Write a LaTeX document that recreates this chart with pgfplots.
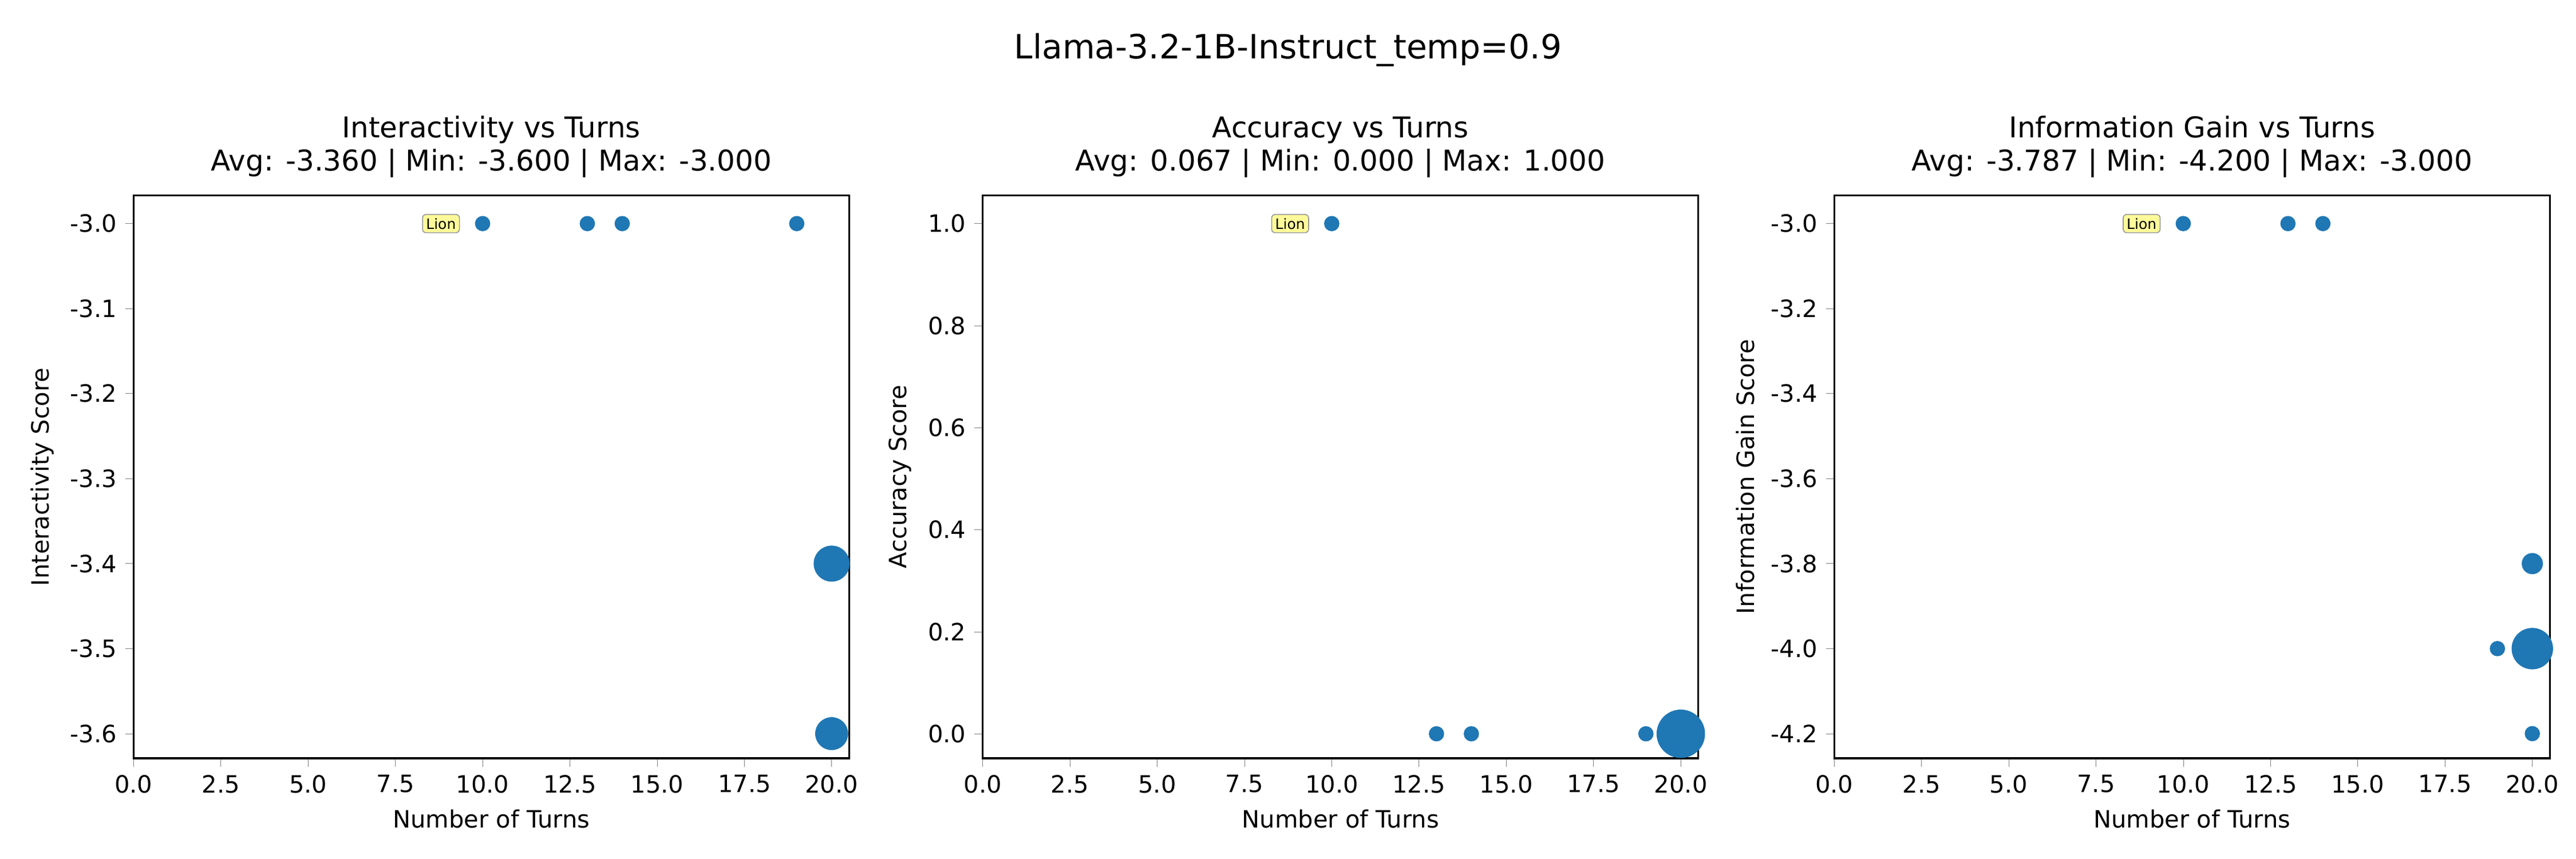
\documentclass[border=0pt]{standalone}
\usepackage{pgfplots}
\pgfplotsset{compat=1.18}
\usepackage{fontspec}
\setmainfont{DejaVu Sans}
\definecolor{mblue}{HTML}{1F77B4}
\tikzset{lion/.style={anchor=east, font=\fontsize{6}{7}\selectfont, fill=yellow!40, draw=black!40, rounded corners=1.5pt, inner sep=1.5pt}}
\pgfplotsset{
  panel/.style={scale only axis, width=300pt, height=236pt, xmin=0, xmax=20.5,
    xtick={0,2.5,...,20}, tick align=outside, tick pos=left,
    /pgf/number format/assume math mode=true,
    xticklabel style={/pgf/number format/.cd, fixed, fixed zerofill, precision=1},
    yticklabel style={/pgf/number format/.cd, fixed, fixed zerofill, precision=1},
    ticklabel style={font=\fontsize{10}{12}\selectfont},
    label style={font=\fontsize{10}{12}\selectfont},
    title style={font=\fontsize{12}{14}\selectfont, align=center, yshift=-2pt},
    xlabel={Number of Turns}, axis line style={line width=0.8pt}, major tick length=3.5pt},
  pts/.style={only marks, mark=*, color=mblue, mark options={draw=none, fill=mblue},
    visualization depends on={3.0*sqrt(\thisrow{n}) \as \rr},
    scatter/@pre marker code/.code={\pgfplotsset{mark size=\rr}},
    scatter/@post marker code/.code={}, scatter}
}
\begin{document}
\begin{tikzpicture}
\path (0,0) rectangle (1080pt,360pt);
\node at (540pt,339pt) {\fontsize{14}{16}\selectfont Llama-3.2-1B-Instruct\_temp=0.9};
\begin{axis}[panel, at={(56pt,42pt)}, ymin=-3.629, ymax=-2.967, ytick={-3.6,-3.5,...,-3.0},
  ylabel={Interactivity Score},
  title={Interactivity vs Turns\\Avg: -3.360 | Min: -3.600 | Max: -3.000}]
\addplot[pts] table {
x y n
10 -3 1
13 -3 1
14 -3 1
19 -3 1
20 -3.4 6
20 -3.6 5
};
\node[lion] at (axis cs:9.35,-3) {Lion};
\end{axis}
\begin{axis}[panel, at={(412pt,42pt)}, ymin=-0.048, ymax=1.055, ytick={0,0.2,...,1.0},
  ylabel={Accuracy Score},
  title={Accuracy vs Turns\\Avg: 0.067 | Min: 0.000 | Max: 1.000}]
\addplot[pts] table {
x y n
10 1 1
13 0 1
14 0 1
19 0 1
20 0 11
};
\node[lion] at (axis cs:9.35,1) {Lion};
\end{axis}
\begin{axis}[panel, at={(769pt,42pt)}, ymin=-4.258, ymax=-2.934, ytick={-4.2,-4.0,...,-3.0},
  ylabel={Information Gain Score},
  title={Information Gain vs Turns\\Avg: -3.787 | Min: -4.200 | Max: -3.000}]
\addplot[pts] table {
x y n
10 -3 1
13 -3 1
14 -3 1
19 -4 1
20 -3.8 2
20 -4.0 8
20 -4.2 1
};
\node[lion] at (axis cs:9.35,-3) {Lion};
\end{axis}
\end{tikzpicture}
\end{document}
